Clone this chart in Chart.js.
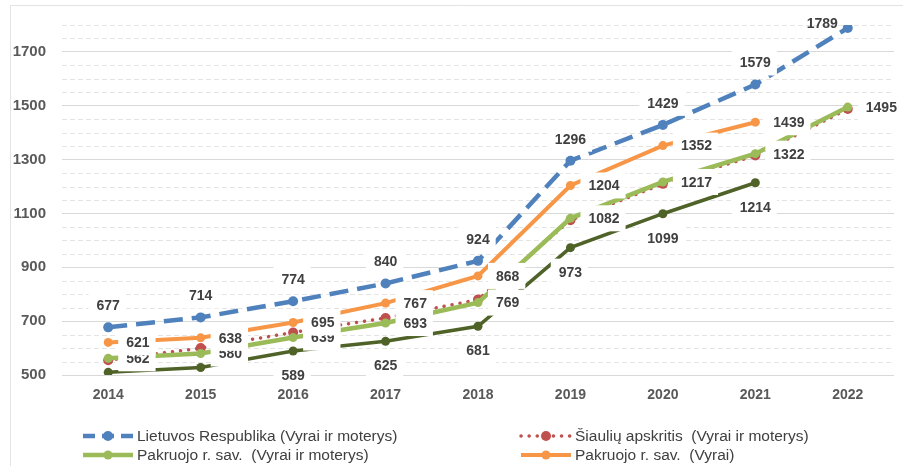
<!DOCTYPE html>
<html>
<head>
<meta charset="utf-8">
<script src="https://cdn.jsdelivr.net/npm/chart.js@4/dist/chart.umd.min.js"></script>
<style>
    html, body { margin: 0; padding: 0; background: #fff; }
    #chartBox { width: 903px; height: 466px; }
</style>
</head>
<body>
<div id="chartBox"><canvas id="chart" width="903" height="466"></canvas></div>
<script>
// 데이터
var years = ['2014', '2015', '2016', '2017', '2018', '2019', '2020', '2021', '2022'];
var lietuva = [677, 714, 774, 840, 924, 1296, 1429, 1579, 1789];
var siauliai = [555, 600, 658, 712, 780, 1075, 1210, 1315, 1488];
var pakruojas = [562, 580, 639, 693, 769, 1082, 1217, 1322, 1495];
var pakruojasVyrai = [621, 638, 695, 767, 868, 1204, 1352, 1439, null];
var pakruojasMoterys = [510, 528, 589, 625, 681, 973, 1099, 1214, null];
var yLabels = [500, 700, 900, 1100, 1300, 1500, 1700];

var FONT = '"Liberation Sans", Arial, sans-serif';

var datasets = [{
    label: 'Lietuvos Respublika (Vyrai ir moterys)',
    data: lietuva,
    borderColor: '#4F81BD',
    backgroundColor: '#4F81BD',
    borderWidth: 4.5,
    borderDash: [19, 9],
    pointRadius: 5,
    order: 1,
    labelPos: 'top',
    labelPosAt: { 8: 'left' }
}, {
    label: 'Šiaulių apskritis  (Vyrai ir moterys)',
    data: siauliai,
    borderColor: '#C0504D',
    backgroundColor: '#C0504D',
    borderWidth: 3.5,
    borderDash: [0.1, 8],
    borderCapStyle: 'round',
    pointRadius: 5,
    order: 5,
    labelPos: null
}, {
    label: 'Pakruojo r. sav.  (Vyrai ir moterys)',
    data: pakruojas,
    borderColor: '#9BBB59',
    backgroundColor: '#9BBB59',
    borderWidth: 4.5,
    pointRadius: 4.5,
    order: 4,
    labelPos: 'right'
}, {
    label: 'Pakruojo r. sav.  (Vyrai)',
    data: pakruojasVyrai,
    borderColor: '#F79646',
    backgroundColor: '#F79646',
    borderWidth: 4,
    pointRadius: 4.5,
    order: 2,
    labelPos: 'right'
}, {
    label: 'Pakruojo r. sav.  (Moterys)',
    data: pakruojasMoterys,
    borderColor: '#4F6228',
    backgroundColor: '#4F6228',
    borderWidth: 3.5,
    pointRadius: 4.5,
    order: 3,
    labelPos: 'bottom',
    skipLabels: [0, 1]
}];

// 라벨 그리는 순서 (나중 것이 위)
var labelOrder = [0, 2, 3, 4];
// 범례에 보이는 항목
var legendShown = [0, 1, 2, 3];

/* 바깥 테두리 + 보조 점선 눈금 */
var framePlugin = {
    id: 'frame',
    beforeDraw: function (chart) {
        var ctx = chart.ctx;
        ctx.save();
        ctx.fillStyle = '#fff';
        ctx.fillRect(0, 0, chart.width, chart.height);
        ctx.strokeStyle = '#e3e3e3';
        ctx.lineWidth = 1;
        ctx.beginPath();
        ctx.moveTo(10.5, chart.height);
        ctx.lineTo(10.5, 5.5);
        ctx.lineTo(chart.width, 5.5);
        ctx.stroke();
        ctx.restore();
    },
    beforeDatasetsDraw: function (chart) {
        var ctx = chart.ctx;
        var y = chart.scales.y;
        var area = chart.chartArea;
        ctx.save();
        ctx.strokeStyle = '#e4e4e4';
        ctx.lineWidth = 1;
        ctx.setLineDash([5, 3]);
        y.ticks.forEach(function (t) {
            if (yLabels.indexOf(t.value) >= 0) return;
            var py = Math.round(y.getPixelForValue(t.value)) + 0.5;
            ctx.beginPath();
            ctx.moveTo(area.left, py);
            ctx.lineTo(area.right, py);
            ctx.stroke();
        });
        ctx.restore();
    }
};

/* 값 라벨 출력 */
var labelPlugin = {
    id: 'valueLabels',
    afterDatasetsDraw: function (chart) {
        var ctx = chart.ctx;
        ctx.save();
        ctx.font = 'bold 14px ' + FONT;
        ctx.textBaseline = 'middle';
        ctx.textAlign = 'center';
        labelOrder.forEach(function (di) {
            var ds = chart.data.datasets[di];
            var meta = chart.getDatasetMeta(di);
            meta.data.forEach(function (pt, i) {
                var v = ds.data[i];
                if (v == null) return;
                if (ds.skipLabels && ds.skipLabels.indexOf(i) >= 0) return;
                var text = String(v);
                var w = ctx.measureText(text).width;
                var pos = (ds.labelPosAt && ds.labelPosAt[i]) || ds.labelPos;
                var cx, cy;
                if (pos === 'top') {
                    cx = pt.x; cy = pt.y - 22;
                } else if (pos === 'bottom') {
                    cx = pt.x; cy = pt.y + 24;
                } else if (pos === 'left') {
                    cx = pt.x - 10 - w / 2; cy = pt.y - 5;
                } else {
                    cx = pt.x + 18 + w / 2; cy = pt.y;
                }
                ctx.fillStyle = '#fff';
                if (pos !== 'left') ctx.fillRect(cx - w / 2 - 8, cy - 13, w + 14, 26);
                ctx.fillStyle = '#404040';
                ctx.fillText(text, cx, cy + 1);
            });
        });
        ctx.restore();
    }
};

/* 하단 범례 (2열) */
var legendPlugin = {
    id: 'gridLegend',
    afterDraw: function (chart) {
        var ctx = chart.ctx;
        var cols = [83, 521];
        var rows = [436, 455];
        ctx.save();
        ctx.font = '15.5px ' + FONT;
        ctx.textBaseline = 'middle';
        ctx.textAlign = 'left';
        legendShown.forEach(function (di, k) {
            var ds = chart.data.datasets[di];
            var x = cols[k % 2];
            var y = rows[Math.floor(k / 2)];
            ctx.strokeStyle = ds.borderColor;
            ctx.lineWidth = ds.borderWidth;
            ctx.lineCap = ds.borderCapStyle || 'butt';
            ctx.setLineDash(ds.borderDash ? (ds.borderDash[0] > 1 ? [12, 7] : ds.borderDash) : []);
            ctx.beginPath();
            ctx.moveTo(x, y);
            ctx.lineTo(x + 50, y);
            ctx.stroke();
            ctx.setLineDash([]);
            ctx.fillStyle = ds.backgroundColor;
            ctx.beginPath();
            ctx.arc(x + 25, y, ds.pointRadius, 0, Math.PI * 2);
            ctx.fill();
            ctx.fillStyle = '#404040';
            ctx.fillText(ds.label, x + 54, y + 1);
        });
        ctx.restore();
    }
};

var chart = new Chart(document.getElementById('chart'), {
    type: 'line',
    data: { labels: years, datasets: datasets },
    options: {
        responsive: false,
        animation: false,
        devicePixelRatio: 1,
        layout: { padding: { left: 10, right: 9, top: 21, bottom: 0 } },
        datasets: {
            line: { pointBorderWidth: 0, pointHoverBorderWidth: 0 }
        },
        elements: {
            line: { tension: 0, fill: false },
            point: { borderWidth: 0 }
        },
        plugins: {
            legend: { display: false },
            tooltip: { enabled: false }
        },
        scales: {
            x: {
                offset: true,
                grid: { display: false, drawTicks: false },
                border: { display: false },
                ticks: { color: '#595959', padding: 12, font: { family: FONT, size: 14, weight: 'bold' } },
                afterFit: function (scale) { scale.height = 91; }
            },
            y: {
                min: 500,
                max: 1800,
                border: { display: false },
                grid: {
                    drawTicks: false,
                    color: function (c) {
                        return yLabels.indexOf(c.tick.value) >= 0 ? '#d9d9d9' : 'rgba(0,0,0,0)';
                    }
                },
                ticks: {
                    stepSize: 50,
                    autoSkip: false,
                    padding: 16,
                    color: '#595959',
                    font: { family: FONT, size: 15, weight: 'bold' },
                    callback: function (v) { return yLabels.indexOf(v) >= 0 ? v : ''; }
                },
                afterFit: function (scale) { scale.width = 52; }
            }
        }
    },
    plugins: [framePlugin, labelPlugin, legendPlugin]
});
</script>
</body>
</html>
